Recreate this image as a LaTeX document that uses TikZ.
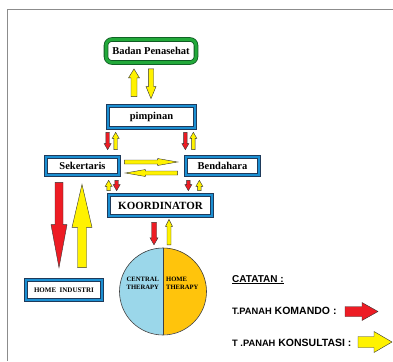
\documentclass[tikz,border=0pt]{standalone}
\usepackage{fontspec}
\setmainfont{Liberation Serif}
\newfontfamily\legfont{Liberation Sans}
\usetikzlibrary{calc}
\definecolor{bandblue}{HTML}{1B8FD2}
\definecolor{edgeblue}{HTML}{1F3A5A}
\definecolor{bandgreen}{HTML}{22A93A}
\definecolor{edgegreen}{HTML}{0E5A22}
\definecolor{arrred}{HTML}{ED1C24}
\definecolor{arryel}{HTML}{FFF200}
\definecolor{ltblue}{HTML}{9BD7EA}
\definecolor{orng}{HTML}{FFC40C}
\definecolor{framegray}{HTML}{8C8C8C}
\tikzset{
  bluebox/.style={draw=edgeblue, line width=0.7pt, double=bandblue, double distance=2.6pt,
    fill=white, inner sep=0pt, font=\bfseries\fontsize{10.5}{12}\selectfont},
  greenbox/.style={draw=edgegreen, line width=0.8pt, double=bandgreen, double distance=3pt,
    fill=white, rounded corners=6pt, inner sep=0pt, font=\bfseries\fontsize{10.5}{12}\selectfont},
  barrowline/.style={draw=black!80, line width=0.4pt, line join=miter},
  legtext/.style={font=\legfont\bfseries\fontsize{10.5}{12}\selectfont, inner sep=0pt},
  circtext/.style={font=\bfseries\fontsize{6.6}{8}\selectfont, inner sep=0pt, align=left},
}
% block arrow: #1 fill, #2 start, #3 tip, #4 half shaft, #5 half head, #6 head length
\newcommand\barrow[6]{%
  \path let \p1=#2, \p2=#3 in \pgfextra{%
    \pgfmathsetmacro\tmpa{\x1}\pgfmathsetmacro\tmpb{\y1}%
    \pgfmathsetmacro\tmpc{atan2(\y2-\y1,\x2-\x1)}%
    \pgfmathsetmacro\tmpd{veclen(\x2-\x1,\y2-\y1)}%
    \xdef\BAx{\tmpa}\xdef\BAy{\tmpb}\xdef\BAang{\tmpc}\xdef\BAlen{\tmpd}};
  \draw[barrowline, fill=#1, shift={(\BAx pt,\BAy pt)}, rotate=\BAang]
    (0pt,-#4pt) -- ({\BAlen pt-#6pt},-#4pt) -- ({\BAlen pt-#6pt},-#5pt) -- (\BAlen pt,0pt)
    -- ({\BAlen pt-#6pt},#5pt) -- ({\BAlen pt-#6pt},#4pt) -- (0pt,#4pt) -- cycle;
}
\begin{document}
\begin{tikzpicture}[x=1pt,y=-1pt]
\useasboundingbox (0,0) rectangle (393,361);
\draw[framegray, line width=1pt] (393,10) -- (7,10) -- (7,361);

% boxes
\node[greenbox, minimum width=90pt, minimum height=23pt] (badan) at (151,51) {Badan Penasehat};
\node[bluebox, minimum width=87pt, minimum height=22pt] (pimp) at (151.5,117) {pimpinan};
\node[bluebox, minimum width=73pt, minimum height=18pt] (sek) at (82.5,166) {Sekertaris};
\node[bluebox, minimum width=73pt, minimum height=18pt] (bend) at (222.5,166) {Bendahara};
\node[bluebox, minimum width=103pt, minimum height=21pt, font=\bfseries\fontsize{11}{12}\selectfont] (koord) at (160.5,205.5) {KOORDINATOR};
\node[bluebox, minimum width=76pt, minimum height=20pt, font=\bfseries\fontsize{7}{8}\selectfont] (home) at (64,290) {HOME~~INDUSTRI\hspace{12pt}};

% circle
\node[circle, minimum size=87pt, inner sep=0pt] (ther) at (163,291.5) {};
\fill[ltblue] (ther.north) arc[start angle=90, end angle=270, radius=43.5pt] -- cycle;
\fill[orng] (ther.north) arc[start angle=90, end angle=-90, radius=43.5pt] -- cycle;
\draw[black!75, line width=0.6pt] (ther.north) -- (ther.south);
\draw[black!75, line width=0.6pt] (ther.center) circle[radius=43.5pt];
\node[circtext, anchor=west] (ctext) at (126.5,283) {CENTRAL\\THERAPY};
\node[circtext, anchor=west] (htext) at (166,283) {HOME\\THERAPY};

% arrows badan <-> pimpinan
\barrow{arryel}{($(pimp.north)+(-17.5,-9)$)}{($(badan.south)+(-17,6)$)}{3}{5.5}{9}
\barrow{arryel}{($(badan.south)+(0,6)$)}{($(pimp.north)+(-0.5,-7)$)}{2.7}{5}{12}

% pimpinan -> sekertaris / bendahara
\barrow{arrred}{($(pimp.south west)+(0,4)$)}{($(pimp.south west |- sek.north)+(0,-7)$)}{1.8}{3.5}{6}
\barrow{arryel}{($(pimp.south west |- sek.north)+(8,-7)$)}{($(pimp.south west)+(8,4)$)}{1.8}{3.5}{6}
\barrow{arrred}{($(pimp.south east)+(-10,4)$)}{($(pimp.south east |- bend.north)+(-10,-7)$)}{1.8}{3.5}{6}
\barrow{arryel}{($(pimp.south east |- bend.north)+(-2,-7)$)}{($(pimp.south east)+(-2,4)$)}{1.8}{3.5}{6}

% sekertaris <-> bendahara
\barrow{arryel}{($(sek.east)+(5,-4)$)}{($(bend.west)+(-8,-4)$)}{2}{3.5}{20}
\barrow{arryel}{($(bend.west)+(-8,7)$)}{($(sek.east)+(6,7)$)}{2}{3.5}{20}

% sekertaris / bendahara <-> koordinator
\barrow{arryel}{($(koord.north west)+(0,-4)$)}{($(koord.north west |- sek.south)+(0,5)$)}{1.8}{3.5}{6}
\barrow{arrred}{($(koord.north west |- sek.south)+(8,5)$)}{($(koord.north west)+(8,-4)$)}{1.8}{3.5}{6}
\barrow{arrred}{($(koord.north east |- bend.south)+(-24,5)$)}{($(koord.north east)+(-24,-4)$)}{1.8}{3.5}{6}
\barrow{arryel}{($(koord.north east)+(-13,-4)$)}{($(koord.north east |- bend.south)+(-13,5)$)}{1.8}{3.5}{6}

% koordinator <-> therapy circle
\barrow{arrred}{($(koord.south -| ther.north)+(-9,6)$)}{($(ther.north)+(-9,-3)$)}{2.5}{4}{7}
\barrow{arryel}{($(ther.north)+(6,-3)$)}{($(koord.south -| ther.north)+(6,3)$)}{2}{3.5}{7}

% sekertaris <-> home industri
\barrow{arrred}{($(sek.south)+(-23.5,7)$)}{($(sek.south |- home.north)+(-23.5,-12)$)}{4}{8}{43}
\barrow{arryel}{($(sek.south |- home.north)+(-0.5,-12)$)}{($(sek.south)+(-0.5,9)$)}{4.5}{10}{43}

% legend
\node[legtext, anchor=base west, font=\legfont\bfseries\fontsize{10}{12}\selectfont] (cat) at (232,282) {\underline{CATATAN :}};
\node[legtext, anchor=base west] (kom) at (232,314) {{\fontsize{9.3}{10}\selectfont T.PANAH} KOMANDO :};
\node[legtext, anchor=base west] (kon) at (232,346) {{\fontsize{9.3}{10}\selectfont T .PANAH} KONSULTASI :};
\coordinate (k1) at (345,311.5);
\coordinate (k2) at (378,311.5);
\coordinate (s1) at (358,342);
\coordinate (s2) at (392,342);
\barrow{arrred}{(k1)}{(k2)}{5}{9}{16}
\barrow{arryel}{(s1)}{(s2)}{5.5}{10.5}{18}
\end{tikzpicture}
\end{document}
